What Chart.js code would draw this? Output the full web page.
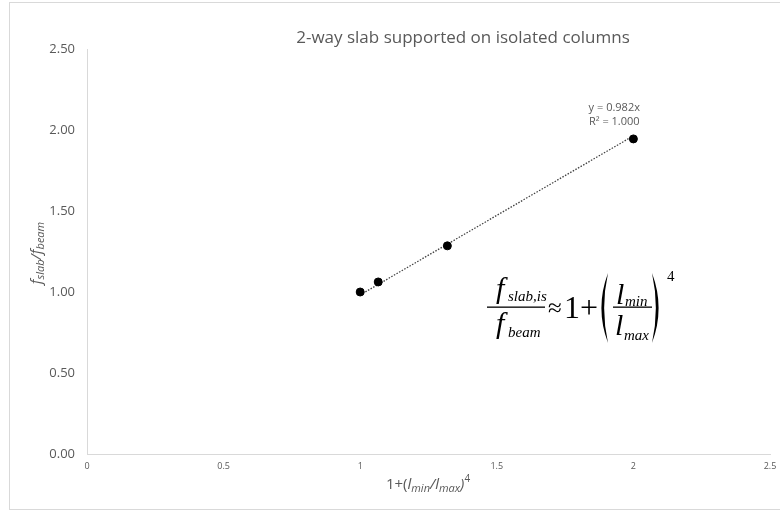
<!DOCTYPE html>
<html>
<head>
<meta charset="utf-8">
<script src="https://cdn.jsdelivr.net/npm/chart.js@4.4.1/dist/chart.umd.min.js"></script>
<style>
  html, body { margin: 0; padding: 0; background: #fff; }
  #wrap { width: 780px; height: 513px; position: relative; }
</style>
</head>
<body>
<div id="wrap"><canvas id="chart"></canvas></div>
<script>
// data
const xValues = [1.0, 1.066, 1.319, 2.0];
const yValues = [1.0, 1.062, 1.285, 1.945];
const trendSlope = 0.982;
const trendX = [1.0, 2.0];
const xTicks = [0, 0.5, 1, 1.5, 2, 2.5];
const yTicks = [0, 0.5, 1, 1.5, 2, 2.5];

const chartTitle = '2-way slab supported on isolated columns';
const trendLabels = ['y = 0.982x', 'R\u00b2 = 1.000'];

const grey = '#595959';
const axisLine = '#d9d9d9';

const points = xValues.map((x, i) => ({ x: x, y: yValues[i] }));
const trend = trendX.map(x => ({ x: x, y: trendSlope * x }));

// text with sub/superscripts, drawn as runs
function drawRuns(ctx, runs, x, y, align) {
    let total = 0;
    runs.forEach(r => { ctx.font = r.font; r.w = ctx.measureText(r.t).width; total += r.w; });
    let cx = align === 'center' ? x - total / 2 : x;
    runs.forEach(r => {
        ctx.font = r.font;
        ctx.fillText(r.t, cx, y + (r.dy || 0));
        cx += r.w;
    });
    return total;
}

function paren(ctx, x0, x1, top, bottom) {
    // x0 = outer edge of the curve's middle, x1 = the ends
    const mid = (top + bottom) / 2;
    ctx.beginPath();
    ctx.moveTo(x1, top);
    ctx.quadraticCurveTo(x0 - (x1 - x0) * 0.2, mid, x1, bottom);
    ctx.quadraticCurveTo(x0 + (x1 - x0) * 0.3, mid, x1, top);
    ctx.fill();
}

const decorPlugin = {
    id: 'decor',
    beforeDraw(chart) {
        const ctx = chart.ctx;
        ctx.save();
        ctx.fillStyle = '#fff';
        ctx.fillRect(0, 0, chart.width, chart.height);
        ctx.strokeStyle = axisLine;
        ctx.lineWidth = 1;
        ctx.strokeRect(9.5, 2.5, 790, 507);
        ctx.restore();
    },
    afterDraw(chart) {
        const ctx = chart.ctx;
        const xs = chart.scales.x;
        const sans = '"Open Sans", sans-serif';
        ctx.save();
        ctx.fillStyle = grey;
        ctx.textBaseline = 'alphabetic';

        // title
        ctx.textAlign = 'center';
        ctx.font = '17px ' + sans;
        ctx.fillText(chartTitle, 463, 43);

        // trendline label
        ctx.font = '11px ' + sans;
        ctx.fillText(trendLabels[0], xs.getPixelForValue(1.93), 111);
        ctx.fillText(trendLabels[1], xs.getPixelForValue(1.93), 125);

        // x axis title
        ctx.textAlign = 'left';
        drawRuns(ctx, [
            { t: '1+(', font: '15px ' + sans },
            { t: 'l', font: 'italic 15px ' + sans },
            { t: 'min', font: 'italic 11px ' + sans, dy: 3 },
            { t: '/', font: 'italic 15px ' + sans },
            { t: 'l', font: 'italic 15px ' + sans },
            { t: 'max', font: 'italic 11px ' + sans, dy: 3 },
            { t: ')', font: 'italic 15px ' + sans },
            { t: '4', font: '10px ' + sans, dy: -7 }
        ], 428, 489, 'center');

        // y axis title (rotated)
        ctx.save();
        ctx.translate(41, 253);
        ctx.rotate(-Math.PI / 2);
        drawRuns(ctx, [
            { t: 'f', font: 'italic 15px ' + sans },
            { t: 'slab', font: 'italic 11px ' + sans, dy: 3 },
            { t: '/', font: 'italic 15px ' + sans },
            { t: 'f', font: 'italic 15px ' + sans },
            { t: 'beam', font: 'italic 11px ' + sans, dy: 3 }
        ], 0, 0, 'center');
        ctx.restore();

        // equation
        ctx.fillStyle = '#000';
        const serif = '"Liberation Serif", serif';
        ctx.font = 'italic 30px ' + serif;
        ctx.fillText('f', 496, 298);
        ctx.fillText('f', 496, 333);
        ctx.font = 'italic 15px ' + serif;
        ctx.fillText('slab,is', 508, 301);
        ctx.fillText('beam', 508, 337);
        ctx.fillRect(487, 306.5, 58, 1.3);
        ctx.font = '25px ' + serif;
        ctx.fillText('\u2248', 548, 316);
        ctx.font = '32px ' + serif;
        ctx.fillText('1+', 564, 318);
        paren(ctx, 597, 608, 273, 343);
        paren(ctx, 663, 652, 273, 343);
        ctx.font = 'italic 30px ' + serif;
        ctx.fillText('l', 616, 304);
        ctx.fillText('l', 615, 335);
        ctx.font = 'italic 15px ' + serif;
        ctx.fillText('min', 625, 306);
        ctx.fillText('max', 624, 340);
        ctx.fillRect(613, 306.5, 39, 1.3);
        ctx.font = '15px ' + serif;
        ctx.fillText('4', 667, 281);
        ctx.restore();
    }
};

new Chart(document.getElementById('chart'), {
    type: 'scatter',
    data: {
        datasets: [
            {
                label: 'data',
                data: points,
                backgroundColor: '#000',
                borderColor: '#000',
                pointRadius: 4,
                pointHoverRadius: 4,
                order: 0
            },
            {
                label: 'trend',
                data: trend,
                showLine: true,
                borderColor: '#404040',
                borderWidth: 1.3,
                borderDash: [1.5, 1.5],
                pointRadius: 0,
                fill: false,
                order: 1
            }
        ]
    },
    options: {
        responsive: true,
        maintainAspectRatio: false,
        animation: false,
        layout: { padding: { left: 0, top: 49, right: 10, bottom: 0 } },
        scales: {
            x: {
                type: 'linear',
                min: 0,
                max: 2.5,
                afterBuildTicks: scale => { scale.ticks = xTicks.map(v => ({ value: v })); },
                afterFit: scale => {
                    scale.height = 59;
                    scale.paddingLeft = 0;
                    scale.paddingRight = 4;
                },
                grid: { display: false, drawTicks: false },
                border: { display: true, color: axisLine, width: 1 },
                ticks: {
                    color: grey,
                    maxRotation: 0,
                    padding: 7,
                    font: { family: 'Open Sans', size: 9 },
                    callback: v => String(v)
                }
            },
            y: {
                type: 'linear',
                min: 0,
                max: 2.5,
                afterBuildTicks: scale => { scale.ticks = yTicks.map(v => ({ value: v })); },
                afterFit: scale => { scale.width = 87; },
                grid: { display: false, drawTicks: false },
                border: { display: true, color: axisLine, width: 1 },
                ticks: {
                    color: grey,
                    padding: 12,
                    font: { family: 'Open Sans', size: 13 },
                    callback: v => Number(v).toFixed(2)
                }
            }
        },
        plugins: {
            legend: { display: false },
            title: { display: false },
            tooltip: { enabled: false }
        }
    },
    plugins: [decorPlugin]
});
</script>
</body>
</html>
